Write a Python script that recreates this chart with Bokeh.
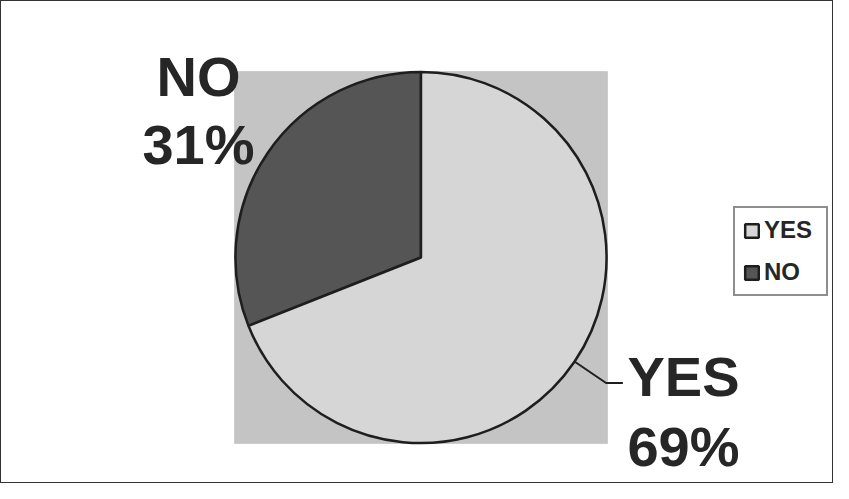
import math
from bokeh.plotting import figure
from bokeh.models import Range1d, Label, Legend, LegendItem, ColumnDataSource, BoxAnnotation
from bokeh.embed import file_html
from bokeh.resources import INLINE

# data
categories = ["YES", "NO"]
percents = [69, 31]
colors = ["#d6d6d6", "#555555"]

FONT = "Liberation Sans"
TXT = "#262626"

W, H = 833, 483
p = figure(width=W, height=H, output_backend="svg", toolbar_location=None,
           x_range=Range1d(-2.2493, 2.2172), y_range=Range1d(-1.2204, 1.3763),
           min_border=0)
p.axis.visible = False
p.grid.visible = False
p.background_fill_color = "white"
p.border_fill_color = "white"
p.outline_line_color = None
p.styles = {"border": "1.5px solid #333333", "box-sizing": "border-box"}

# grey plot area around the pie
p.add_layout(BoxAnnotation(left=-1.0, right=1.0, bottom=-1.0, top=1.0,
                           fill_color="#c4c4c4", fill_alpha=1,
                           line_color="#9a9a9a", line_width=1, level="underlay"))

# wedges: NO starts at 12 o'clock going counter-clockwise, then YES
order = [1, 0]
start = math.pi / 2
starts, ends, cols, names = [], [], [], []
for i in order:
    ang = percents[i] / 100 * 2 * math.pi
    starts.append(start)
    ends.append(start + ang)
    cols.append(colors[i])
    names.append(categories[i])
    start += ang

src = ColumnDataSource(dict(start=starts, end=ends, color=cols, name=names))
r = p.wedge(x=0, y=0, radius=0.995, start_angle="start", end_angle="end",
            fill_color="color", line_color="#1e1e1e", line_width=2.5, source=src)

# leader line for YES label
yes_idx = names.index("YES")
mid = (starts[yes_idx] + ends[yes_idx]) / 2
lx = [0.995 * math.cos(mid), 1.2 * math.cos(mid), 1.2 * math.cos(mid) + 0.09]
ly = [0.995 * math.sin(mid), 1.2 * math.sin(mid), 1.2 * math.sin(mid)]
p.line(lx, ly, line_color="#1e1e1e", line_width=2)

# big labels (screen units)
lab_pos = {"NO": (197, 408, 340), "YES": (682, 108, 38)}
for name, val in zip(categories, percents):
    x, y1, y2 = lab_pos[name]
    for txt, yy in ((name, y1), (f"{val}%", y2)):
        p.add_layout(Label(x=x, y=yy, x_units="screen", y_units="screen", text=txt,
                           text_font=FONT, text_font_style="bold", text_font_size="56px",
                           text_color=TXT, text_align="center", text_baseline="alphabetic"))

# legend
items = [LegendItem(label=categories[0], renderers=[r], index=names.index(categories[0])),
         LegendItem(label=categories[1], renderers=[r], index=names.index(categories[1]))]
leg = Legend(items=items, location=(732, 188), orientation="vertical",
             glyph_width=17, glyph_height=17, label_height=17, label_width=54,
             spacing=14, padding=8, margin=0, label_standoff=4,
             label_text_font=FONT, label_text_font_style="bold",
             label_text_font_size="24px", label_text_color=TXT,
             border_line_color="#1e1e1e", border_line_width=2,
             background_fill_color="white", background_fill_alpha=1)
p.add_layout(leg, "center")

open("out.html", "w").write(file_html(p, INLINE))
